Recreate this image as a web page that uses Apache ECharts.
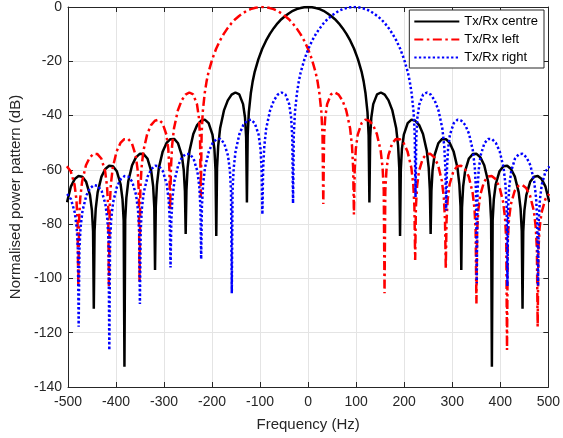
<!DOCTYPE html>
<html>
<head>
<meta charset="utf-8">
<script src="https://cdn.jsdelivr.net/npm/echarts@6/dist/echarts.min.js"></script>
<style>
html,body{margin:0;padding:0;background:#fff;}
#c{width:563px;height:438px;}
</style>
</head>
<body>
<div id="c"></div>
<script>
// ---- data ----
var seriesNames = ['Tx/Rx centre', 'Tx/Rx left', 'Tx/Rx right'];
var xTicks = [-500, -400, -300, -200, -100, 0, 100, 200, 300, 400, 500];
var yTicks = [-140, -120, -100, -80, -60, -40, -20, 0];

var centreHz = [-502.0,-494.1,-486.1,-478.1,-470.2,-462.2,-454.2,-450.2,-447.8,-446.3,
-444.7,-442.3,-438.3,-430.3,-422.3,-414.4,-406.4,-398.4,-390.5,-386.5,-384.1,-382.5,
-380.9,-378.5,-374.5,-366.6,-358.6,-350.6,-342.7,-334.7,-326.7,-322.7,-320.3,-318.8,
-317.2,-314.8,-310.8,-302.8,-294.8,-286.9,-278.9,-270.9,-263.0,-259.0,-256.6,-255.0,
-253.4,-251.0,-247.0,-239.1,-231.1,-223.1,-215.2,-207.2,-199.2,-195.2,-192.9,-191.3,
-189.7,-187.3,-183.3,-175.3,-167.3,-159.4,-151.4,-143.4,-135.5,-131.5,-129.1,-127.5,
-125.9,-123.5,-119.4,-115.5,-111.6,-103.6,-95.6,-87.7,-79.7,-71.7,-63.8,-55.8,-47.8,-39.8,-31.9,-23.9,-15.9,-8.0,
0,
8.0,15.9,23.9,31.9,39.8,47.8,55.8,63.8,71.7,79.7,87.7,95.6,103.6,111.6,115.5,119.4,123.5,125.9,127.5,
129.1,131.5,135.5,143.4,151.4,159.4,167.3,175.3,183.3,187.3,189.7,191.3,
192.9,195.2,199.2,207.2,215.2,223.1,231.1,239.1,247.0,251.0,253.4,255.0,
256.6,259.0,263.0,270.9,278.9,286.9,294.8,302.8,310.8,314.8,317.2,318.8,
320.3,322.7,326.7,334.7,342.7,350.6,358.6,366.6,374.5,378.5,380.9,382.5,
384.1,386.5,390.5,398.4,406.4,414.4,422.3,430.3,438.3,442.3,444.7,446.3,
447.8,450.2,454.2,462.2,470.2,478.1,486.1,494.1,502.0];
var centreDb = [-71.9,-66.2,-63.4,-62.3,-62.5,-64.4,-69.3,-74.9,-82.7,-111.2,
-82.5,-74.4,-68.3,-62.5,-59.7,-58.5,-58.7,-60.5,-65.3,-70.9,-78.6,-132.5,
-78.4,-70.3,-64.2,-58.3,-55.4,-54.1,-54.2,-55.8,-60.5,-66.1,-73.8,-96.9,
-73.5,-65.4,-59.2,-53.2,-50.1,-48.7,-48.6,-50.2,-54.7,-60.1,-67.8,-83.6,
-67.5,-59.3,-53.0,-46.8,-43.5,-41.9,-41.5,-42.8,-47.0,-52.3,-59.9,-84.4,
-59.4,-51.2,-44.7,-38.1,-34.4,-32.3,-31.5,-32.2,-35.8,-40.7,-48.0,-72.0,
-47.2,-38.7,-31.8,-27.4,-24.1,-19.2,-15.4,-12.4,-9.9,-7.8,-6.0,-4.5,-3.3,-2.3,-1.4,-0.8,-0.4,-0.1,
0,
-0.1,-0.4,-0.8,-1.4,-2.3,-3.3,-4.5,-6.0,-7.8,-9.9,-12.4,-15.4,-19.2,-24.1,-27.4,-31.8,-38.7,-47.2,-72.0,
-48.0,-40.7,-35.8,-32.2,-31.5,-32.3,-34.4,-38.1,-44.7,-51.2,-59.4,-84.4,
-59.9,-52.3,-47.0,-42.8,-41.5,-41.9,-43.5,-46.8,-53.0,-59.3,-67.5,-83.6,
-67.8,-60.1,-54.7,-50.2,-48.6,-48.7,-50.1,-53.2,-59.2,-65.4,-73.5,-96.9,
-73.8,-66.1,-60.5,-55.8,-54.2,-54.1,-55.4,-58.3,-64.2,-70.3,-78.4,-132.5,
-78.6,-70.9,-65.3,-60.5,-58.7,-58.5,-59.7,-62.5,-68.3,-74.4,-82.5,-111.2,
-82.7,-74.9,-69.3,-64.4,-62.5,-62.3,-63.4,-66.2,-71.9];

var leftHz = [-502.4,-494.4,-486.5,-482.5,-480.1,-478.5,
-476.9,-474.5,-470.5,-462.6,-454.6,-446.6,-438.7,-430.7,-422.7,-418.7,-416.3,-414.8,
-413.2,-410.8,-406.8,-398.8,-390.8,-382.9,-374.9,-366.9,-359.0,-355.0,-352.6,-351.0,
-349.4,-347.0,-343.0,-335.1,-327.1,-319.1,-311.2,-303.2,-295.2,-291.2,-288.9,-287.3,
-285.7,-283.3,-279.3,-271.3,-263.3,-255.4,-247.4,-239.4,-231.5,-227.5,-225.1,-223.5,
-221.9,-219.5,-215.4,-211.5,-207.6,-199.6,-191.6,-183.7,-175.7,-167.7,-159.8,-151.8,-143.8,-135.8,-127.9,-119.9,-111.9,-104.0,
-96.0,
-88.0,-80.1,-72.1,-64.1,-56.2,-48.2,-40.2,-32.2,-24.3,-16.3,-8.3,-0.4,7.6,15.6,19.5,23.4,27.5,29.9,31.5,
33.1,35.5,39.5,47.4,55.4,63.4,71.3,79.3,87.3,91.3,93.7,95.3,
96.9,99.2,103.2,111.2,119.2,127.1,135.1,143.1,151.0,155.0,157.4,159.0,
160.6,163.0,167.0,174.9,182.9,190.9,198.8,206.8,214.8,218.8,221.2,222.8,
224.3,226.7,230.7,238.7,246.7,254.6,262.6,270.6,278.5,282.5,284.9,286.5,
288.1,290.5,294.5,302.4,310.4,318.4,326.3,334.3,342.3,346.3,348.7,350.3,
351.8,354.2,358.2,366.2,374.2,382.1,390.1,398.1,406.0,410.0,412.4,414.0,
415.6,418.0,422.0,429.9,437.9,445.9,453.8,461.8,469.8,473.8,476.2,477.8,
479.4,481.8,485.8,493.8,501.8];
var leftDb = [-58.7,-60.5,-65.3,-70.9,-78.6,-102.8,
-78.4,-70.3,-64.2,-58.3,-55.4,-54.1,-54.2,-55.8,-60.5,-66.1,-73.8,-102.8,
-73.5,-65.4,-59.2,-53.2,-50.1,-48.7,-48.6,-50.2,-54.7,-60.1,-67.8,-101.2,
-67.5,-59.3,-53.0,-46.8,-43.5,-41.9,-41.5,-42.8,-47.0,-52.3,-59.9,-75.0,
-59.4,-51.2,-44.7,-38.1,-34.4,-32.3,-31.5,-32.2,-35.8,-40.7,-48.0,-70.0,
-47.2,-38.7,-31.8,-27.4,-24.1,-19.2,-15.4,-12.4,-9.9,-7.8,-6.0,-4.5,-3.3,-2.3,-1.4,-0.8,-0.4,-0.1,
0,
-0.1,-0.4,-0.8,-1.4,-2.3,-3.3,-4.5,-6.0,-7.8,-9.9,-12.4,-15.4,-19.2,-24.1,-27.4,-31.8,-38.7,-47.2,-72.6,
-48.0,-40.7,-35.8,-32.2,-31.5,-32.3,-34.4,-38.1,-44.7,-51.2,-59.4,-76.4,
-59.9,-52.3,-47.0,-42.8,-41.5,-41.9,-43.5,-46.8,-53.0,-59.3,-67.5,-105.5,
-67.8,-60.1,-54.7,-50.2,-48.6,-48.7,-50.1,-53.2,-59.2,-65.4,-73.5,-93.2,
-73.8,-66.1,-60.5,-55.8,-54.2,-54.1,-55.4,-58.3,-64.2,-70.3,-78.4,-96.5,
-78.6,-70.9,-65.3,-60.5,-58.7,-58.5,-59.7,-62.5,-68.3,-74.4,-82.5,-109.2,
-82.7,-74.9,-69.3,-64.4,-62.5,-62.3,-63.4,-66.2,-71.9,-78.0,-86.0,-126.4,
-86.2,-78.4,-72.7,-67.8,-65.9,-65.6,-66.7,-69.4,-75.1,-81.1,-89.1,-117.8,
-89.3,-81.5,-75.8,-70.8,-68.9];

var rightHz = [-501.8,-493.8,-485.8,-481.8,-479.4,-477.8,
-476.2,-473.8,-469.8,-461.8,-453.8,-445.9,-437.9,-429.9,-422.0,-418.0,-415.6,-414.0,
-412.4,-410.0,-406.0,-398.1,-390.1,-382.1,-374.2,-366.2,-358.2,-354.2,-351.8,-350.3,
-348.7,-346.3,-342.3,-334.3,-326.3,-318.4,-310.4,-302.4,-294.5,-290.5,-288.1,-286.5,
-284.9,-282.5,-278.5,-270.6,-262.6,-254.6,-246.7,-238.7,-230.7,-226.7,-224.3,-222.8,
-221.2,-218.8,-214.8,-206.8,-198.8,-190.9,-182.9,-174.9,-167.0,-163.0,-160.6,-159.0,
-157.4,-155.0,-151.0,-143.1,-135.1,-127.1,-119.2,-111.2,-103.2,-99.2,-96.9,-95.3,
-93.7,-91.3,-87.3,-79.3,-71.3,-63.4,-55.4,-47.4,-39.5,-35.5,-33.1,-31.5,
-29.9,-27.5,-23.4,-19.5,-15.6,-7.6,0.4,8.3,16.3,24.3,32.2,40.2,48.2,56.2,64.1,72.1,80.1,88.0,
96.0,
104.0,111.9,119.9,127.9,135.8,143.8,151.8,159.8,167.7,175.7,183.7,191.6,199.6,207.6,211.5,215.4,219.5,221.9,223.5,
225.1,227.5,231.5,239.4,247.4,255.4,263.3,271.3,279.3,283.3,285.7,287.3,
288.9,291.2,295.2,303.2,311.2,319.1,327.1,335.1,343.0,347.0,349.4,351.0,
352.6,355.0,359.0,366.9,374.9,382.9,390.8,398.8,406.8,410.8,413.2,414.8,
416.3,418.7,422.7,430.7,438.7,446.6,454.6,462.6,470.5,474.5,476.9,478.5,
480.1,482.5,486.5,494.4,502.4];
var rightDb = [-68.9,-70.8,-75.8,-81.5,-89.3,-117.8,
-89.1,-81.1,-75.1,-69.4,-66.7,-65.6,-65.9,-67.8,-72.7,-78.4,-86.2,-126.4,
-86.0,-78.0,-71.9,-66.2,-63.4,-62.3,-62.5,-64.4,-69.3,-74.9,-82.7,-109.4,
-82.5,-74.4,-68.3,-62.5,-59.7,-58.5,-58.7,-60.5,-65.3,-70.9,-78.6,-96.0,
-78.4,-70.3,-64.2,-58.3,-55.4,-54.1,-54.2,-55.8,-60.5,-66.1,-73.8,-92.9,
-73.5,-65.4,-59.2,-53.2,-50.1,-48.7,-48.6,-50.2,-54.7,-60.1,-67.8,-105.5,
-67.5,-59.3,-53.0,-46.8,-43.5,-41.9,-41.5,-42.8,-47.0,-52.3,-59.9,-76.4,
-59.4,-51.2,-44.7,-38.1,-34.4,-32.3,-31.5,-32.2,-35.8,-40.7,-48.0,-72.3,
-47.2,-38.7,-31.8,-27.4,-24.1,-19.2,-15.4,-12.4,-9.9,-7.8,-6.0,-4.5,-3.3,-2.3,-1.4,-0.8,-0.4,-0.1,
0,
-0.1,-0.4,-0.8,-1.4,-2.3,-3.3,-4.5,-6.0,-7.8,-9.9,-12.4,-15.4,-19.2,-24.1,-27.4,-31.8,-38.7,-47.2,-70.0,
-48.0,-40.7,-35.8,-32.2,-31.5,-32.3,-34.4,-38.1,-44.7,-51.2,-59.4,-75.0,
-59.9,-52.3,-47.0,-42.8,-41.5,-41.9,-43.5,-46.8,-53.0,-59.3,-67.5,-101.8,
-67.8,-60.1,-54.7,-50.2,-48.6,-48.7,-50.1,-53.2,-59.2,-65.4,-73.5,-102.8,
-73.8,-66.1,-60.5,-55.8,-54.2,-54.1,-55.4,-58.3,-64.2,-70.3,-78.4,-102.8,
-78.6,-70.9,-65.3,-60.5,-58.7];

// ---- build chart ----
function zip(xs, ys) { var out = []; for (var i = 0; i < xs.length; i++) out.push([xs[i], ys[i]]); return out; }

var FONT = '"Liberation Sans", Arial, Helvetica, sans-serif';
var AX = '#262626';
var chart = echarts.init(document.getElementById('c'), null, {renderer: 'canvas'});

function baseX(pos, main) {
  return {
    type: 'value', position: pos, min: xTicks[0], max: xTicks[xTicks.length - 1], interval: 100,
    axisLine: {show: true, onZero: false, lineStyle: {color: AX, width: 1}},
    axisTick: {show: true, inside: true, length: 5, lineStyle: {color: AX}},
    axisLabel: {show: main, fontSize: 14, color: AX, fontFamily: FONT, margin: 8},
    splitLine: {show: main, lineStyle: {color: '#e4e4e4', width: 1}},
    name: main ? 'Frequency (Hz)' : '', nameLocation: 'middle', nameGap: 30,
    nameTextStyle: {fontSize: 15, color: AX, fontFamily: FONT}
  };
}
function baseY(pos, main) {
  return {
    type: 'value', position: pos, min: yTicks[0], max: yTicks[yTicks.length - 1], interval: 20,
    axisLine: {show: true, onZero: false, lineStyle: {color: AX, width: 1}},
    axisTick: {show: true, inside: true, length: 5, lineStyle: {color: AX}},
    axisLabel: {show: main, fontSize: 14, color: AX, fontFamily: FONT, margin: 6},
    splitLine: {show: main, lineStyle: {color: '#e4e4e4', width: 1}},
    name: main ? 'Normalised power pattern (dB)' : '', nameLocation: 'middle', nameGap: 40,
    nameTextStyle: {fontSize: 15, color: AX, fontFamily: FONT}
  };
}

var option = {
  animation: false,
  backgroundColor: '#ffffff',
  grid: {left: 68, right: 14, top: 7, bottom: 51, containLabel: false},
  xAxis: [baseX('bottom', true), baseX('top', false)],
  yAxis: [baseY('left', true), baseY('right', false)],
  legend: {
    orient: 'vertical', right: 19, top: 10,
    backgroundColor: '#ffffff', borderColor: AX, borderWidth: 1,
    padding: [5, 6, 4, 4], itemWidth: 45, itemHeight: 10, itemGap: 5,
    itemStyle: {opacity: 0},
    textStyle: {fontSize: 13, color: '#000', fontFamily: FONT, lineHeight: 13},
    data: seriesNames
  },
  series: [
    {name: seriesNames[0], type: 'line', data: zip(centreHz, centreDb), symbol: 'none', clip: true,
     lineStyle: {color: '#000000', width: 2.5, type: 'solid'}, itemStyle: {color: '#000000'}},
    {name: seriesNames[1], type: 'line', data: zip(leftHz, leftDb), symbol: 'none', clip: true,
     lineStyle: {color: '#ff0000', width: 2.5, type: [9, 3.5, 2.5, 3.5], cap: 'butt'}, itemStyle: {color: '#ff0000'}},
    {name: seriesNames[2], type: 'line', data: zip(rightHz, rightDb), symbol: 'none', clip: true,
     lineStyle: {color: '#0000ff', width: 2.5, type: [2.3, 2.3], cap: 'butt'}, itemStyle: {color: '#0000ff'}}
  ]
};
chart.setOption(option);
</script>
</body>
</html>
